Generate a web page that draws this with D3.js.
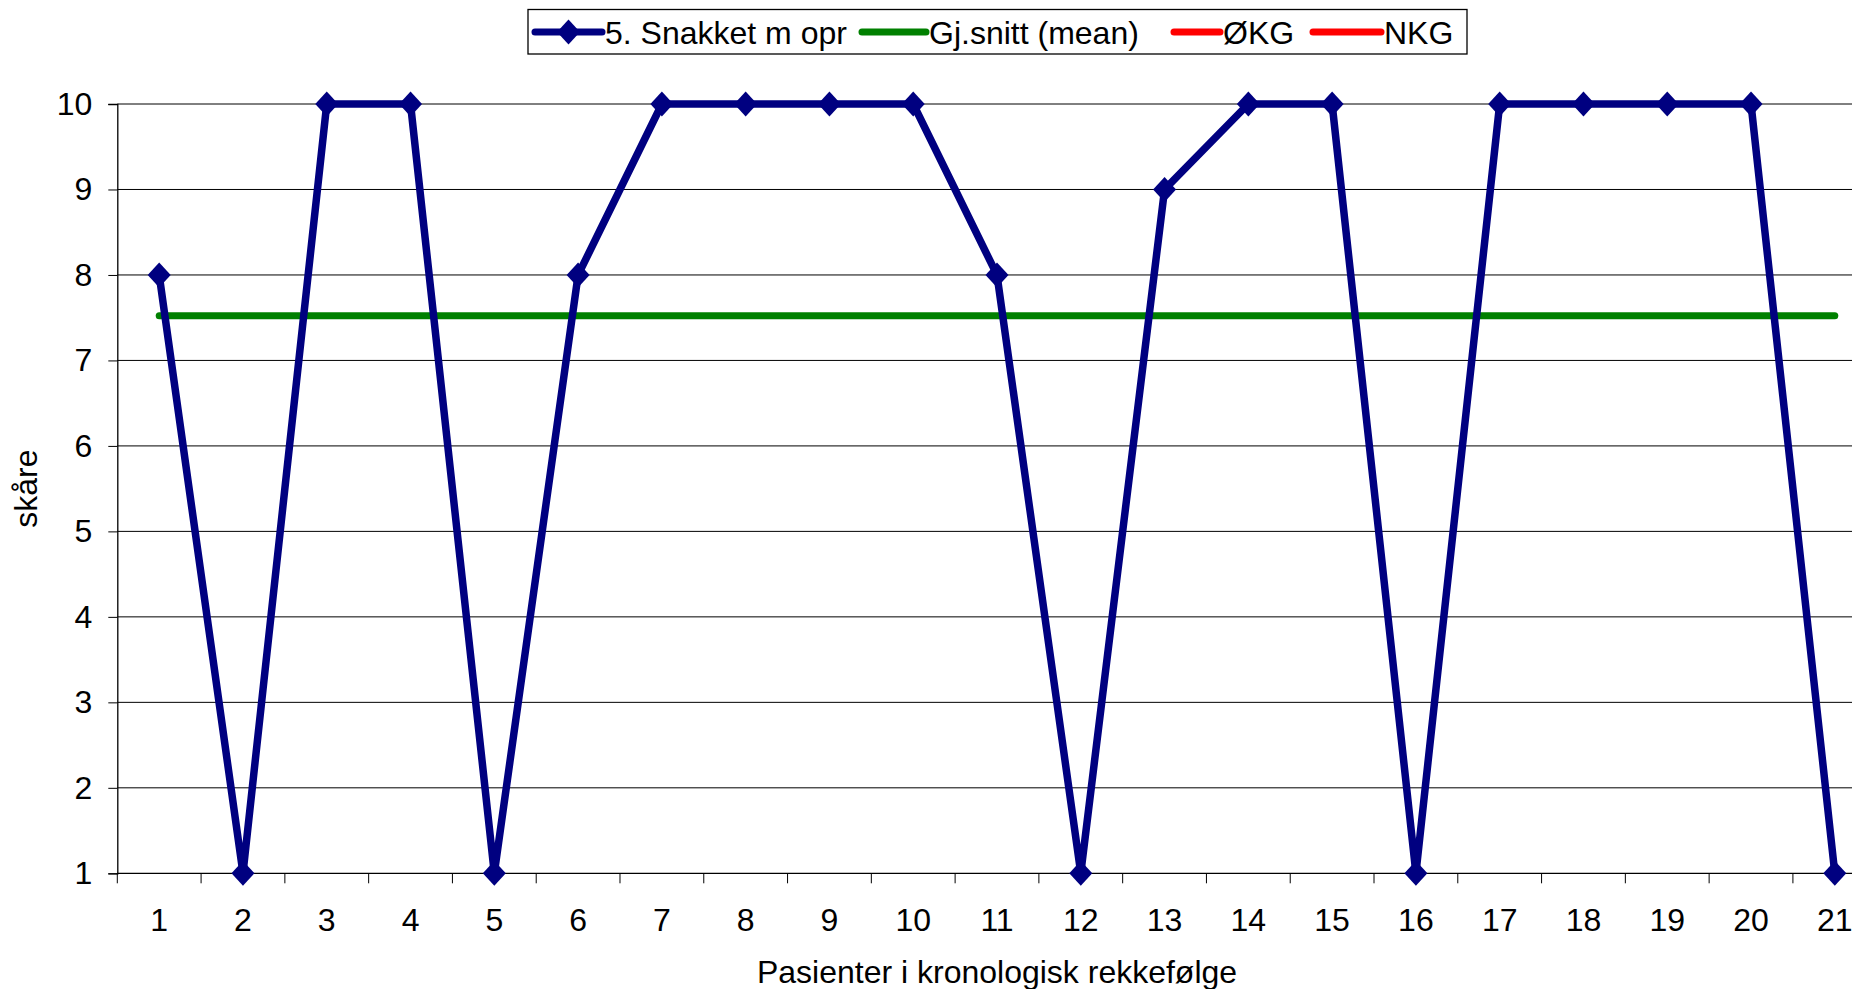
<!DOCTYPE html>
<html>
<head>
<meta charset="utf-8">
<script src="https://cdn.jsdelivr.net/npm/d3@7"></script>
<style>
  html, body { margin: 0; padding: 0; background: #fff; }
  svg { display: block; font-family: "Liberation Sans", Arial, sans-serif; }
</style>
</head>
<body>
<script>
// Patients in chronological order and their scores
const patients = d3.range(1, 22).map(String);
const scores = [8, 1, 10, 10, 1, 8, 10, 10, 10, 10, 8, 1, 9, 10, 10, 1, 10, 10, 10, 10, 1];
const meanScore = d3.mean(scores);
const yTicks = [1, 2, 3, 4, 5, 6, 7, 8, 9, 10];

const seriesNames = ["5. Snakket m opr", "Gj.snitt (mean)", "ØKG", "NKG"];
const seriesColors = ["#000080", "#008000", "#ff0000", "#ff0000"];

const W = 1852, H = 989;
const plot = { left: 117.3, right: 1876.7, top: 104, bottom: 873.3 };
const FONT = 32;

const svg = d3.select("body").append("svg")
  .attr("width", W).attr("height", H);

const x = d3.scaleBand().domain(patients).range([plot.left, plot.right]).padding(0);
const cx = d => x(d) + x.bandwidth() / 2;
const y = d3.scaleLinear().domain([1, 10]).range([plot.bottom, plot.top]);

// Horizontal gridlines
svg.append("g").selectAll("line").data(yTicks.filter(v => v > 1)).join("line")
  .attr("x1", plot.left).attr("x2", plot.right)
  .attr("y1", d => y(d)).attr("y2", d => y(d))
  .attr("stroke", "#000").attr("stroke-width", 1);

// Y axis
const yAxis = svg.append("g").attr("transform", `translate(${plot.left},0)`)
  .call(d3.axisLeft(y).tickValues(yTicks).tickSize(9).tickPadding(16).tickFormat(d3.format("d")));
yAxis.select(".domain").attr("stroke", "#000").attr("stroke-width", 1.3);
yAxis.selectAll(".tick line").attr("stroke", "#000");
yAxis.selectAll(".tick text").attr("font-size", FONT).attr("fill", "#000")
  .attr("font-family", "Liberation Sans, Arial, sans-serif");

// X axis: line, ticks at category boundaries, labels at centres
const xg = svg.append("g");
xg.append("line").attr("x1", plot.left).attr("x2", plot.right)
  .attr("y1", plot.bottom).attr("y2", plot.bottom)
  .attr("stroke", "#000").attr("stroke-width", 1.3);
const boundaries = patients.map(p => x(p)).concat([x(patients[patients.length - 1]) + x.bandwidth()]);
xg.selectAll("line.tick").data(boundaries).join("line").attr("class", "tick")
  .attr("x1", d => d).attr("x2", d => d)
  .attr("y1", plot.bottom).attr("y2", plot.bottom + 10)
  .attr("stroke", "#000").attr("stroke-width", 1);
xg.selectAll("text").data(patients).join("text")
  .attr("x", d => cx(d)).attr("y", 931)
  .attr("text-anchor", "middle").attr("font-size", FONT).attr("fill", "#000")
  .text(d => d);

// Axis titles
svg.append("text").attr("x", 997).attr("y", 983)
  .attr("text-anchor", "middle").attr("font-size", FONT).text("Pasienter i kronologisk rekkefølge");
svg.append("text")
  .attr("transform", `translate(37,${(plot.top + plot.bottom) / 2}) rotate(-90)`)
  .attr("text-anchor", "middle").attr("font-size", FONT).text("skåre");

// Mean line
const line = d3.line().x(d => cx(d.p)).y(d => y(d.v));
svg.append("path")
  .datum(patients.map(p => ({ p, v: meanScore })))
  .attr("d", line).attr("fill", "none")
  .attr("stroke", seriesColors[1]).attr("stroke-width", 7).attr("stroke-linecap", "round");

// Score series
const pts = patients.map((p, i) => ({ p, v: scores[i] }));
svg.append("path").datum(pts).attr("d", line).attr("fill", "none")
  .attr("stroke", seriesColors[0]).attr("stroke-width", 7.5).attr("stroke-linejoin", "round");

const diamond = (cxp, cyp, w, h) =>
  `M${cxp},${cyp - h / 2}L${cxp + w / 2},${cyp}L${cxp},${cyp + h / 2}L${cxp - w / 2},${cyp}Z`;
svg.append("g").selectAll("path").data(pts).join("path")
  .attr("d", d => diamond(cx(d.p), y(d.v), 23, 25))
  .attr("fill", seriesColors[0]);

// Legend
const legend = svg.append("g");
legend.append("rect").attr("x", 528).attr("y", 9.5).attr("width", 939).attr("height", 44.5)
  .attr("fill", "#fff").attr("stroke", "#000").attr("stroke-width", 1.3);
const legendItems = [
  { name: seriesNames[0], color: seriesColors[0], x1: 535, x2: 602, tx: 605, marker: true },
  { name: seriesNames[1], color: seriesColors[1], x1: 862, x2: 926, tx: 929 },
  { name: seriesNames[2], color: seriesColors[2], x1: 1174, x2: 1220, tx: 1223 },
  { name: seriesNames[3], color: seriesColors[3], x1: 1313, x2: 1381, tx: 1384 }
];
const ly = 32;
legendItems.forEach(it => {
  legend.append("line").attr("x1", it.x1).attr("x2", it.x2).attr("y1", ly).attr("y2", ly)
    .attr("stroke", it.color).attr("stroke-width", 7).attr("stroke-linecap", "round");
  if (it.marker) {
    legend.append("path").attr("d", diamond((it.x1 + it.x2) / 2, ly, 23, 25)).attr("fill", it.color);
  }
  legend.append("text").attr("x", it.tx).attr("y", ly + 11.5)
    .attr("font-size", FONT).attr("fill", "#000").text(it.name);
});
</script>
</body>
</html>
